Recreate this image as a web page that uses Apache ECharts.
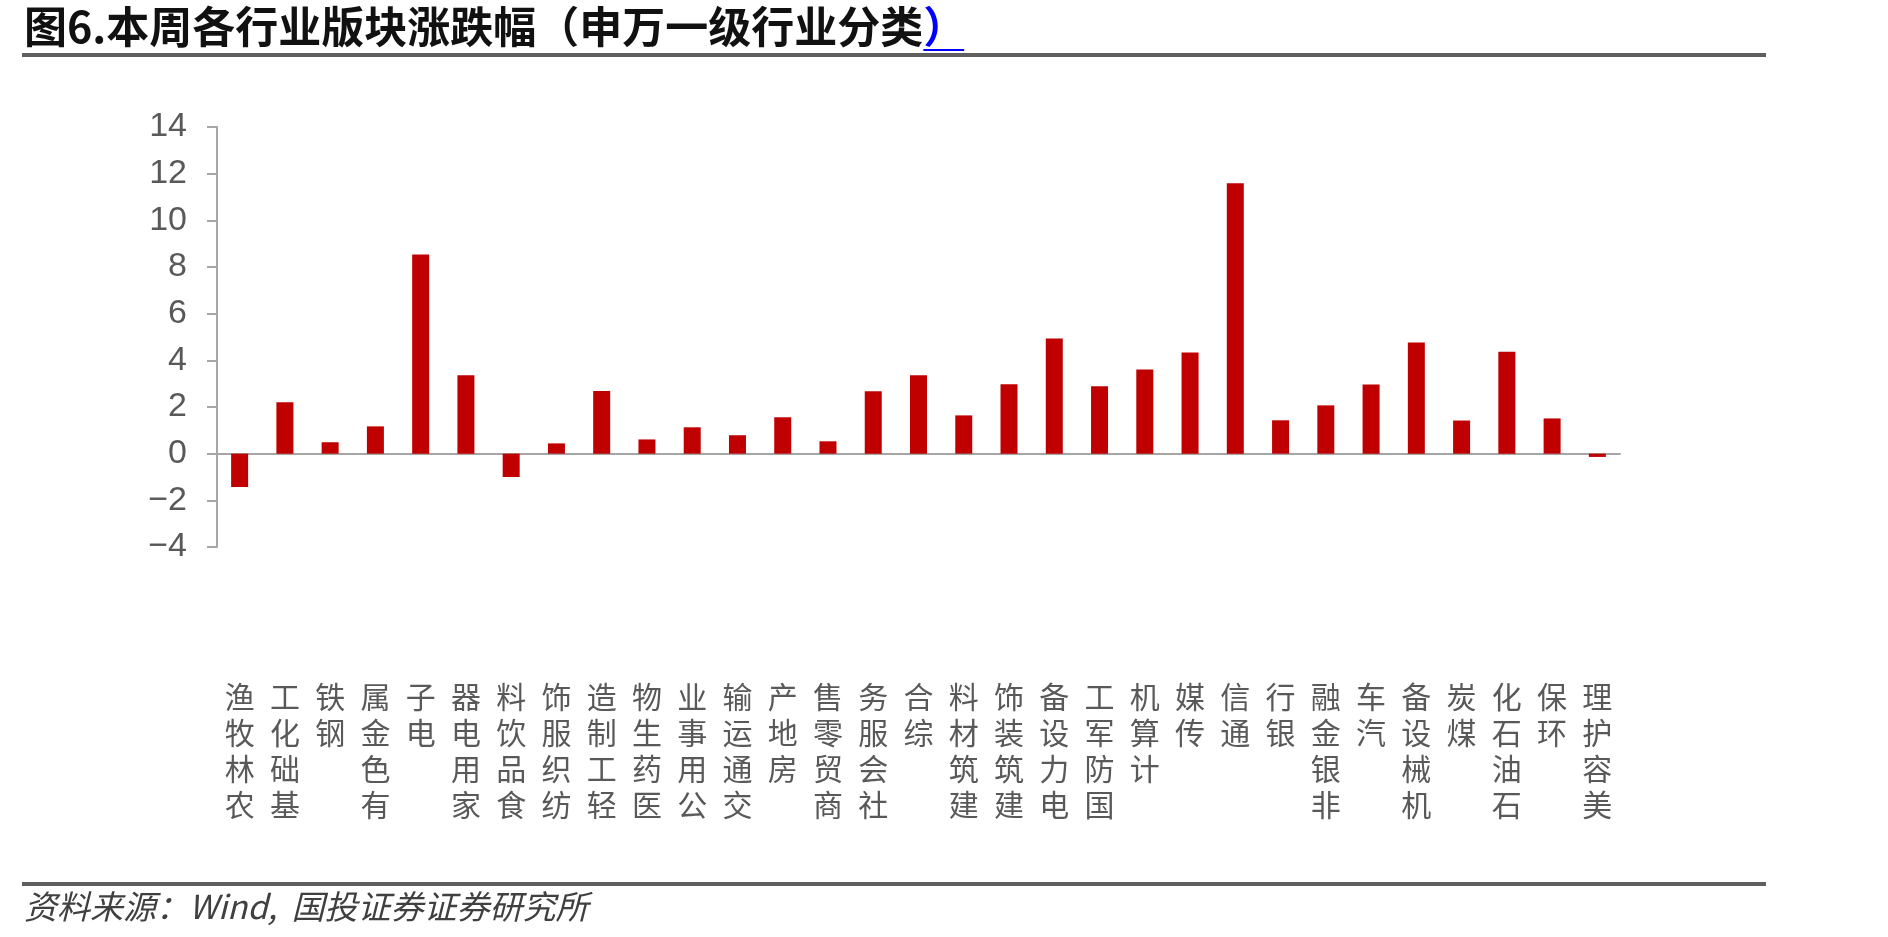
<!DOCTYPE html>
<html>
<head>
<meta charset="utf-8">
<script src="https://cdn.jsdelivr.net/npm/echarts@6/dist/echarts.min.js"></script>
<style>
  html, body { margin: 0; padding: 0; background: #fff; }
  #chart { width: 1888px; height: 937px; }
</style>
</head>
<body>
<div id="chart"></div>
<script>
// 申万一级行业 本周涨跌幅(%)
const industries = [
  '农林牧渔', '基础化工', '钢铁', '有色金属', '电子', '家用电器', '食品饮料', '纺织服饰',
  '轻工制造', '医药生物', '公用事业', '交通运输', '房地产', '商贸零售', '社会服务', '综合',
  '建筑材料', '建筑装饰', '电力设备', '国防军工', '计算机', '传媒', '通信', '银行',
  '非银金融', '汽车', '机械设备', '煤炭', '石油石化', '环保', '美容护理'
];
const weeklyChange = [
  -1.43, 2.20, 0.49, 1.17, 8.54, 3.36, -1.00, 0.44,
  2.69, 0.61, 1.13, 0.79, 1.56, 0.53, 2.67, 3.36,
  1.64, 2.97, 4.94, 2.89, 3.61, 4.34, 11.59, 1.43,
  2.07, 2.96, 4.76, 1.42, 4.37, 1.51, -0.14
];
const yTicks = { min: -4, max: 14, step: 2 };

const titleMain = '图6.本周各行业版块涨跌幅（申万一级行业分类';
const titleEnd = '）';
const sourceNote = '资料来源：Wind,  国投证券证券研究所';

const cjk = '"Noto Sans CJK SC", "Noto Sans", sans-serif';
const axisGray = '#a6a6a6';
const labelGray = '#595959';

// measure title so the blue underline sits under the closing bracket
function textWidth(str, font) {
  let ctx = document.createElement('canvas').getContext('2d');
  ctx.font = font;
  return ctx.measureText(str).width;
}
const titleFont = 'bold 43px ' + cjk;
const titleX = 24;
const mainW = textWidth(titleMain, titleFont);
const endW = textWidth(titleEnd, titleFont);

let myEcharts = echarts.init(document.getElementById('chart'), null, { renderer: 'canvas' });
let option = {
  backgroundColor: '#fff',
  animation: false,
  grid: { left: 217, top: 127, width: 1403, height: 420, containLabel: false },
  xAxis: {
    type: 'category',
    data: industries,
    axisLine: { onZero: true, lineStyle: { color: axisGray, width: 2 } },
    axisTick: { show: false },
    axisLabel: {
      interval: 0,
      margin: 132,
      fontFamily: cjk,
      fontSize: 30,
      lineHeight: 36,
      color: labelGray,
      // vertical text, read from bottom to top
      formatter: function (v) { return v.split('').reverse().join('\n'); }
    }
  },
  yAxis: {
    type: 'value',
    min: yTicks.min,
    max: yTicks.max,
    interval: yTicks.step,
    axisLine: { show: true, lineStyle: { color: axisGray, width: 2 } },
    axisTick: { show: true, inside: false, length: 10, lineStyle: { color: axisGray, width: 2 } },
    splitLine: { show: false },
    axisLabel: {
      margin: 30,
      fontFamily: '"Liberation Sans", Arial, sans-serif',
      fontSize: 34,
      color: labelGray,
      formatter: function (v) { return v < 0 ? '\u2212' + Math.abs(v) : String(v); }
    }
  },
  series: [
    {
      type: 'bar',
      data: weeklyChange,
      barWidth: 17,
      itemStyle: { color: '#C00000' }
    }
  ],
  graphic: [
    {
      type: 'text',
      left: titleX,
      top: 5,
      style: {
        text: '{a|' + titleMain + '}{b|' + titleEnd + '}',
        rich: {
          a: { font: titleFont, fill: '#111' },
          b: { font: titleFont, fill: '#0000ff' }
        }
      }
    },
    {
      type: 'line',
      shape: { x1: titleX + mainW, y1: 50, x2: titleX + mainW + endW * 0.95, y2: 50 },
      style: { stroke: '#0000ff', lineWidth: 2 }
    },
    {
      type: 'line',
      shape: { x1: 22, y1: 55, x2: 1766, y2: 55 },
      style: { stroke: '#5f5f5f', lineWidth: 4 }
    },
    {
      type: 'line',
      shape: { x1: 22, y1: 884, x2: 1766, y2: 884 },
      style: { stroke: '#5f5f5f', lineWidth: 4 }
    },
    {
      type: 'text',
      left: 24,
      top: 890,
      style: {
        text: sourceNote,
        font: 'italic 33px ' + cjk,
        fill: '#404040'
      }
    }
  ]
};
myEcharts.setOption(option);
</script>
</body>
</html>
